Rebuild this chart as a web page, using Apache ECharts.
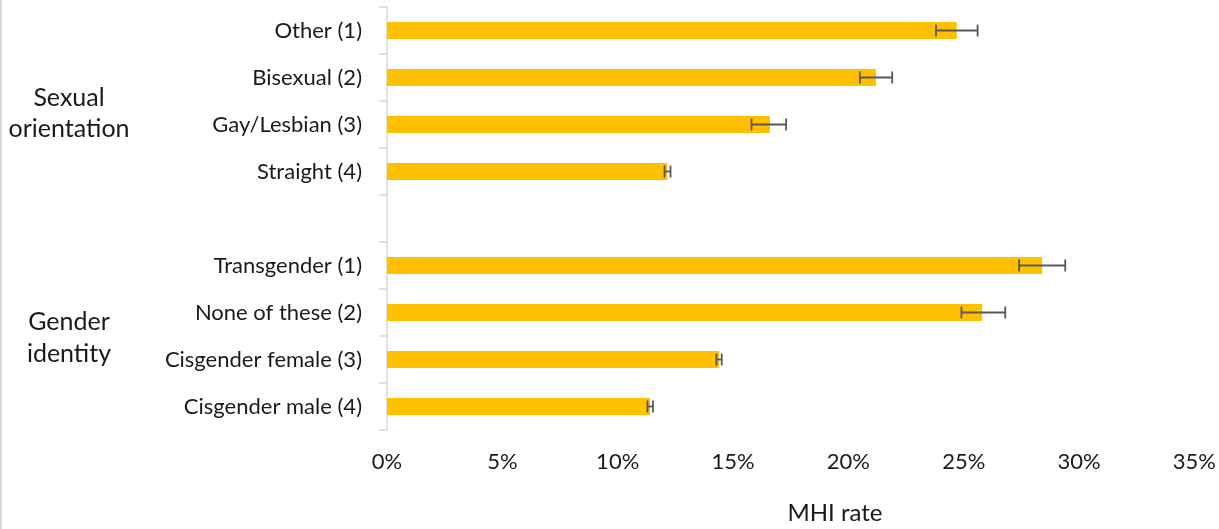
<!DOCTYPE html>
<html>
<head>
<meta charset="utf-8">
<script src="https://cdn.jsdelivr.net/npm/echarts@6/dist/echarts.min.js"></script>
<style>
  html, body { margin: 0; padding: 0; background: #fff; }
  #chart { width: 1219px; height: 529px; }
</style>
</head>
<body>
<div id="chart"></div>
<script>
// ---- data (percent) ----
var categories = ['Other (1)', 'Bisexual (2)', 'Gay/Lesbian (3)', 'Straight (4)', '',
                  'Transgender (1)', 'None of these (2)', 'Cisgender female (3)', 'Cisgender male (4)'];
var values     = [24.7, 21.2, 16.6, 12.15, null, 28.4, 25.8, 14.4, 11.4];
var errLow     = [23.8, 20.5, 15.8, 12.03, null, 27.4, 24.9, 14.28, 11.29];
var errHigh    = [25.6, 21.9, 17.3, 12.29, null, 29.4, 26.8, 14.51, 11.53];
var groupLabels = ['Sexual\norientation', 'Gender\nidentity'];
var axisTitle = 'MHI rate';
var xTicks = { min: 0, max: 35, interval: 5 };

var errData = [];
for (var i = 0; i < categories.length; i++) {
  if (values[i] != null) errData.push([i, errLow[i], errHigh[i]]);
}

var FONT = 'Lato';
var FS = 22;
var TXT = '#1a1a1a';
var chart = echarts.init(document.getElementById('chart'), null, { renderer: 'canvas' });
chart.setOption({
  animation: false,
  backgroundColor: '#fff',
  grid: { left: 387, right: 23, top: 7, bottom: 99, containLabel: false },
  xAxis: {
    type: 'value', min: xTicks.min, max: xTicks.max, interval: xTicks.interval,
    axisLine: { show: false }, axisTick: { show: false }, splitLine: { show: false },
    axisLabel: { formatter: '{value}%', fontFamily: FONT, fontSize: FS, color: TXT, margin: 21 }
  },
  yAxis: {
    type: 'category', data: categories, inverse: true,
    axisLine: { show: true, lineStyle: { color: '#d9d9d9', width: 1.5 } },
    axisTick: { show: true, length: 8, lineStyle: { color: '#d9d9d9', width: 1.5 } },
    axisLabel: { fontFamily: FONT, fontSize: FS, color: TXT, margin: 25 }
  },
  series: [
    {
      type: 'bar', data: values, barWidth: 17,
      itemStyle: { color: '#FFC000' }
    },
    {
      type: 'custom', data: errData,
      encode: { x: [1, 2], y: 0 },
      z: 5,
      renderItem: function (params, api) {
        var idx = api.value(0);
        var lo = api.coord([api.value(1), idx]);
        var hi = api.coord([api.value(2), idx]);
        var h = 6;
        var style = { stroke: '#595959', lineWidth: 1.8, fill: null };
        return {
          type: 'group',
          children: [
            { type: 'line', shape: { x1: lo[0], y1: lo[1], x2: hi[0], y2: hi[1] }, style: style },
            { type: 'line', shape: { x1: lo[0], y1: lo[1] - h, x2: lo[0], y2: lo[1] + h }, style: style },
            { type: 'line', shape: { x1: hi[0], y1: hi[1] - h, x2: hi[0], y2: hi[1] + h }, style: style }
          ]
        };
      }
    }
  ],
  graphic: [
    { type: 'line', shape: { x1: 1, y1: 0, x2: 1, y2: 529 }, style: { stroke: '#d9d9d9', lineWidth: 2 } },
    { type: 'text', x: 69, y: 113, style: { text: groupLabels[0], fontFamily: FONT, fontSize: 25, fill: TXT,
        align: 'center', verticalAlign: 'middle', lineHeight: 31 } },
    { type: 'text', x: 69, y: 338, style: { text: groupLabels[1], fontFamily: FONT, fontSize: 25, fill: TXT,
        align: 'center', verticalAlign: 'middle', lineHeight: 32 } },
    { type: 'text', x: 835, y: 513, style: { text: axisTitle, fontFamily: FONT, fontSize: 24, fill: TXT,
        align: 'center', verticalAlign: 'middle' } }
  ]
});
</script>
</body>
</html>
